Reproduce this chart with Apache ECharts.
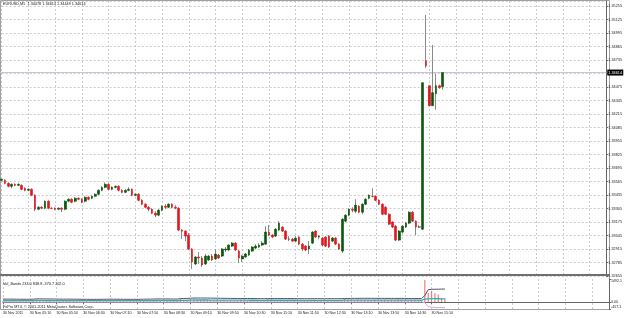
<!DOCTYPE html>
<html>
<head>
<meta charset="utf-8">
<script src="https://cdn.jsdelivr.net/npm/echarts@6/dist/echarts.min.js"></script>
<style>
html, body { margin: 0; padding: 0; background: #fff; }
#chart { width: 625px; height: 318px; }
</style>
</head>
<body>
<div id="chart"></div>
<script>
// EURUSD,M5 - 30 Nov 2011, bars from 04:30 to 15:30
const opens = [
  1.33576, 1.33576, 1.33547, 1.33519, 1.33538, 1.33528, 1.33528, 1.33499, 1.33480, 1.33490,
  1.33432, 1.33298, 1.33317, 1.33308, 1.33375, 1.33308, 1.33308, 1.33298, 1.33308, 1.33298,
  1.33375, 1.33394, 1.33375, 1.33404, 1.33394, 1.33375, 1.33413, 1.33404, 1.33423, 1.33442,
  1.33480, 1.33509, 1.33538, 1.33490, 1.33509, 1.33519, 1.33480, 1.33461, 1.33480, 1.33490,
  1.33432, 1.33442, 1.33384, 1.33346, 1.33317, 1.33298, 1.33260, 1.33241, 1.33289, 1.33327,
  1.33317, 1.33346, 1.33317, 1.33308, 1.33097, 1.33087, 1.33049, 1.32915, 1.32771, 1.32838,
  1.32828, 1.32771, 1.32809, 1.32847, 1.32819, 1.32857, 1.32847, 1.32905, 1.32905, 1.32943,
  1.32972, 1.32895, 1.32819, 1.32838, 1.32857, 1.32895, 1.32924, 1.32934, 1.32953, 1.32962,
  1.33078, 1.33049, 1.33039, 1.33097, 1.33126, 1.33087, 1.33010, 1.33010, 1.32991, 1.33030,
  1.32962, 1.32943, 1.32915, 1.32972, 1.33087, 1.33030, 1.33020, 1.33030, 1.33039, 1.32991,
  1.33020, 1.32962, 1.32895, 1.33183, 1.33241, 1.33298, 1.33279, 1.33327, 1.33269, 1.33346,
  1.33404, 1.33423, 1.33423, 1.33384, 1.33346, 1.33317, 1.33250, 1.33174, 1.33135, 1.33001,
  1.33078, 1.33126, 1.33164, 1.33269, 1.33183, 1.33126, 1.33106, 1.34727, 1.34487, 1.34295,
  1.34411, 1.34487, 1.34478
];
const closes = [
  1.33586, 1.33547, 1.33519, 1.33538, 1.33528, 1.33538, 1.33490, 1.33480, 1.33490, 1.33432,
  1.33298, 1.33317, 1.33308, 1.33375, 1.33308, 1.33306, 1.33298, 1.33308, 1.33298, 1.33375,
  1.33394, 1.33365, 1.33404, 1.33394, 1.33365, 1.33413, 1.33394, 1.33423, 1.33442, 1.33480,
  1.33509, 1.33538, 1.33490, 1.33509, 1.33519, 1.33480, 1.33461, 1.33480, 1.33490, 1.33432,
  1.33442, 1.33384, 1.33346, 1.33317, 1.33298, 1.33260, 1.33241, 1.33289, 1.33327, 1.33317,
  1.33346, 1.33317, 1.33308, 1.33097, 1.33087, 1.33039, 1.32915, 1.32790, 1.32838, 1.32828,
  1.32761, 1.32847, 1.32847, 1.32809, 1.32867, 1.32828, 1.32915, 1.32915, 1.32953, 1.32972,
  1.32905, 1.32828, 1.32847, 1.32867, 1.32905, 1.32934, 1.32943, 1.32953, 1.32972, 1.33078,
  1.33049, 1.33030, 1.33106, 1.33164, 1.33087, 1.33010, 1.33012, 1.32991, 1.33020, 1.32962,
  1.32915, 1.32905, 1.32943, 1.33078, 1.33030, 1.33039, 1.32953, 1.32943, 1.32934, 1.33020,
  1.32962, 1.32915, 1.33202, 1.33241, 1.33298, 1.33289, 1.33337, 1.33269, 1.33346, 1.33394,
  1.33432, 1.33420, 1.33384, 1.33346, 1.33250, 1.33250, 1.33154, 1.33126, 1.33001, 1.33087,
  1.33135, 1.33164, 1.33269, 1.33183, 1.33126, 1.33128, 1.34516, 1.34679, 1.34295, 1.34420,
  1.34487, 1.34468, 1.34614
];
const lows = [
  1.33567, 1.33538, 1.33509, 1.33499, 1.33519, 1.33519, 1.33480, 1.33471, 1.33471, 1.33423,
  1.33279, 1.33289, 1.33298, 1.33298, 1.33298, 1.33298, 1.33289, 1.33289, 1.33269, 1.33289,
  1.33365, 1.33356, 1.33365, 1.33384, 1.33356, 1.33365, 1.33384, 1.33394, 1.33413, 1.33432,
  1.33471, 1.33499, 1.33480, 1.33480, 1.33499, 1.33471, 1.33452, 1.33452, 1.33471, 1.33423,
  1.33423, 1.33375, 1.33337, 1.33308, 1.33279, 1.33250, 1.33222, 1.33231, 1.33279, 1.33298,
  1.33308, 1.33308, 1.33298, 1.33087, 1.33010, 1.32991, 1.32905, 1.32723, 1.32761, 1.32771,
  1.32742, 1.32761, 1.32799, 1.32799, 1.32809, 1.32819, 1.32838, 1.32886, 1.32895, 1.32934,
  1.32895, 1.32780, 1.32790, 1.32828, 1.32847, 1.32886, 1.32915, 1.32924, 1.32943, 1.32953,
  1.33039, 1.33020, 1.33030, 1.33087, 1.33078, 1.33001, 1.32991, 1.32982, 1.32982, 1.32953,
  1.32895, 1.32895, 1.32867, 1.32962, 1.33020, 1.33010, 1.32943, 1.32934, 1.32924, 1.32982,
  1.32953, 1.32905, 1.32876, 1.33174, 1.33231, 1.33269, 1.33260, 1.33260, 1.33250, 1.33337,
  1.33394, 1.33413, 1.33375, 1.33337, 1.33241, 1.33241, 1.33145, 1.33116, 1.32991, 1.32991,
  1.33068, 1.33116, 1.33154, 1.33174, 1.33049, 1.33116, 1.33097, 1.34660, 1.34295, 1.34295,
  1.34257, 1.34458, 1.34449
];
const highs = [
  1.33595, 1.33586, 1.33557, 1.33547, 1.33547, 1.33547, 1.33538, 1.33509, 1.33499, 1.33499,
  1.33442, 1.33327, 1.33327, 1.33384, 1.33384, 1.33317, 1.33317, 1.33317, 1.33317, 1.33384,
  1.33404, 1.33404, 1.33413, 1.33413, 1.33404, 1.33423, 1.33423, 1.33432, 1.33452, 1.33490,
  1.33519, 1.33557, 1.33547, 1.33519, 1.33528, 1.33528, 1.33490, 1.33490, 1.33509, 1.33499,
  1.33452, 1.33452, 1.33394, 1.33356, 1.33327, 1.33308, 1.33279, 1.33298, 1.33337, 1.33346,
  1.33356, 1.33356, 1.33337, 1.33317, 1.33106, 1.33097, 1.33068, 1.32924, 1.32847, 1.32886,
  1.32847, 1.32867, 1.32857, 1.32867, 1.32915, 1.32867, 1.32924, 1.32934, 1.32962, 1.32982,
  1.32982, 1.32905, 1.32857, 1.32876, 1.32915, 1.32943, 1.32962, 1.32972, 1.32991, 1.33135,
  1.33145, 1.33059, 1.33116, 1.33183, 1.33135, 1.33097, 1.33039, 1.33020, 1.33039, 1.33039,
  1.32972, 1.32953, 1.32991, 1.33087, 1.33097, 1.33049, 1.33030, 1.33039, 1.33049, 1.33030,
  1.33030, 1.32972, 1.33212, 1.33250, 1.33308, 1.33317, 1.33394, 1.33337, 1.33356, 1.33404,
  1.33442, 1.33499, 1.33432, 1.33394, 1.33356, 1.33327, 1.33260, 1.33183, 1.33145, 1.33097,
  1.33145, 1.33174, 1.33279, 1.33279, 1.33193, 1.33145, 1.34516, 1.35168, 1.34487, 1.34880,
  1.34602, 1.34497, 1.34614
];

// Vol_Bands indicator
const volumes = [
  62, 48, 55, 40, 36, 44, 58, 50, 47, 70,
  165, 88, 52, 76, 81, 45, 38, 42, 55, 90,
  64, 58, 60, 41, 57, 66, 48, 52, 61, 84,
  92, 97, 88, 70, 54, 72, 60, 58, 55, 86,
  62, 95, 102, 98, 84, 110, 104, 96, 90, 74,
  80, 78, 66, 210, 150, 142, 186, 224, 176, 140,
  158, 150, 118, 104, 132, 96, 128, 90, 114, 102,
  126, 160, 138, 96, 112, 104, 88, 92, 98, 170,
  150, 96, 128, 140, 132, 146, 98, 84, 90, 122,
  118, 112, 134, 168, 130, 92, 126, 134, 128, 104,
  120, 128, 236, 168, 150, 122, 176, 140, 148, 134,
  126, 160, 118, 124, 156, 130, 148, 124, 170, 156,
  132, 120, 150, 138, 142, 110, 1420, 600, 730, 560,
  480, 260, 234
];
const bandUpper = [
  190, 188, 185, 182, 180, 178, 176, 175, 174, 180,
  205, 204, 200, 198, 196, 192, 188, 185, 183, 186,
  184, 182, 180, 176, 174, 172, 170, 168, 168, 172,
  176, 180, 182, 180, 178, 176, 174, 172, 170, 174,
  172, 176, 180, 184, 186, 192, 196, 198, 198, 196,
  194, 192, 188, 218, 226, 232, 242, 256, 258, 256,
  256, 254, 250, 246, 244, 240, 238, 234, 230, 228,
  226, 228, 228, 226, 224, 222, 218, 214, 212, 220,
  222, 220, 220, 222, 222, 224, 222, 218, 214, 212,
  212, 210, 210, 214, 214, 212, 212, 214, 214, 212,
  212, 212, 226, 230, 232, 232, 236, 236, 238, 238,
  236, 236, 234, 234, 234, 232, 232, 230, 232, 232,
  230, 228, 228, 226, 226, 222, 420, 800, 822, 828,
  832, 836, 838.8
];
const bandMid = [
  95, 94, 93, 92, 90, 89, 88, 88, 87, 90,
  100, 99, 97, 96, 95, 93, 91, 90, 89, 90,
  89, 88, 87, 85, 84, 83, 82, 82, 82, 84,
  86, 88, 89, 88, 87, 86, 85, 84, 83, 84,
  84, 86, 88, 90, 91, 94, 96, 97, 97, 96,
  95, 94, 92, 104, 108, 112, 118, 126, 128, 128,
  128, 127, 125, 123, 122, 120, 119, 117, 116, 115,
  114, 115, 115, 114, 113, 112, 110, 108, 107, 111,
  112, 111, 111, 112, 112, 113, 112, 110, 108, 107,
  107, 106, 106, 108, 108, 107, 107, 108, 108, 107,
  107, 107, 114, 116, 117, 117, 119, 119, 120, 120,
  119, 119, 118, 118, 118, 117, 117, 116, 117, 117,
  116, 115, 115, 114, 114, 112, 190, 205, 212, 214,
  210, 205, 202
];
const bandLower = [
  0, 0, 1, 2, 0, 0, 0, 1, 0, 0,
  -5, -6, -6, -6, -6, -6, -6, -5, -5, -6,
  -6, -6, -6, -6, -6, -6, -6, -4, -4, -4,
  -4, -4, -4, -4, -4, -4, -4, -4, -4, -6,
  -4, -4, -4, -4, -4, -4, -4, -4, -4, -4,
  -4, -4, -4, -10, -10, -8, -6, -4, -2, 0,
  0, 0, 0, 0, 0, 0, 0, 0, 2, 2,
  2, 2, 2, 2, 2, 2, 2, 2, 2, 2,
  2, 2, 2, 2, 2, 2, 2, 2, 2, 2,
  2, 2, 2, 2, 2, 2, 2, 2, 2, 2,
  2, 2, 2, 2, 2, 2, 2, 2, 2, 2,
  2, 2, 2, 2, 2, 2, 2, 2, 2, 2,
  2, 2, 2, 2, 2, 2, -40, -290, -340, -355,
  -362, -368, -370.7
];

const timeLabels = [
  '30 Nov 2011', '30 Nov 05:10', '30 Nov 05:50', '30 Nov 06:30', '30 Nov 07:10',
  '30 Nov 07:50', '30 Nov 08:30', '30 Nov 09:10', '30 Nov 09:50', '30 Nov 10:30',
  '30 Nov 11:10', '30 Nov 11:50', '30 Nov 12:30', '30 Nov 13:10', '30 Nov 13:50',
  '30 Nov 14:30', '30 Nov 15:10'
];
const priceMin = 1.32655;
const priceStep = 0.0013;
const priceMax = 1.35303;
const volLimits = [-457.1, 0, 1492.1];

const N = opens.length;
const shiftBars = 49; // empty space on the right (chart shift)
const cats = [];
for (let i = 0; i < N + shiftBars; i++) {
  if (i < N) {
    const m = 4 * 60 + 30 + 5 * i;
    const hh = String(Math.floor(m / 60)).padStart(2, '0');
    const mm = String(m % 60).padStart(2, '0');
    cats.push('30 Nov ' + hh + ':' + mm);
  } else {
    cats.push('');
  }
}

const wickData = opens.map((o, i) => [o, closes[i], lows[i], highs[i]]);
const bodyData = opens.map((o, i) => [o, closes[i], Math.min(o, closes[i]), Math.max(o, closes[i])]);

const last = N - 1;
const fx = v => v.toFixed(5);
const headerText = 'EURUSD,M5  ' + fx(opens[last]) + ' ' + fx(highs[last]) + ' ' + fx(lows[last]) + ' ' + fx(closes[last]);
const volText = 'Vol_Bands ' + volumes[last].toFixed(1) + ' ' + bandUpper[last].toFixed(1) + ' ' +
  bandLower[last].toFixed(1) + ' ' + bandMid[last].toFixed(1);

const FONT = 'Liberation Sans, Arial, sans-serif';
const gridLine = { color: '#cccccc', type: [2, 2], width: 1 };
const every8 = (i) => i % 8 === 0;

const frame = [
  { id: 'frame', type: 'rect', shape: { x: 0.5, y: 0.5, width: 609, height: 309 }, style: { fill: 'none', stroke: '#a0a0a0', lineWidth: 1 }, silent: true },
  { id: 'sep', type: 'rect', shape: { x: 0, y: 274, width: 610, height: 2 }, style: { fill: '#6f6f6f' }, silent: true, z: 10 },
  { id: 'head', type: 'text', left: 3, top: 2, style: { text: headerText, fontSize: 3.8, fill: '#222', fontFamily: FONT }, z: 10 },
  { id: 'vol', type: 'text', left: 3, top: 282, style: { text: volText, fontSize: 3.8, fill: '#222', fontFamily: FONT }, z: 10 },
  { id: 'copy', type: 'text', left: 3, top: 304.8, style: { text: 'FxPro MT4, \u00a9 2001-2011 MetaQuotes Software Corp.', fontSize: 3.8, fill: '#222', fontFamily: FONT }, z: 10 }
];

const chart = echarts.init(document.getElementById('chart'));
chart.setOption({
  animation: false,
  backgroundColor: '#ffffff',
  textStyle: { fontFamily: FONT },
  grid: [
    { left: 1.7, right: 16, top: 1, height: 275 },
    { left: 1.7, right: 16, top: 279, height: 30 }
  ],
  xAxis: [
    {
      type: 'category', gridIndex: 0, data: cats, boundaryGap: false,
      axisLine: { show: false }, axisTick: { show: false }, axisLabel: { show: false },
      splitLine: { show: true, interval: every8, lineStyle: gridLine }
    },
    {
      type: 'category', gridIndex: 1, data: cats, boundaryGap: false,
      axisLine: { show: true, lineStyle: { color: '#666', width: 1 } },
      axisTick: { show: true, interval: (i) => i % 8 === 0 && i < N, length: 2, lineStyle: { color: '#666' } },
      axisLabel: {
        interval: (i) => i % 8 === 0 && i < N,
        fontSize: 3.6, color: '#222', align: 'left', margin: 2,
        formatter: (v, i) => (i % 8 === 0 && i < N ? timeLabels[i / 8] : '')
      },
      splitLine: { show: true, interval: every8, lineStyle: gridLine }
    }
  ],
  yAxis: [
    {
      type: 'value', gridIndex: 0, position: 'right', scale: true,
      min: priceMin, max: priceMax, interval: priceStep,
      axisLine: { show: true, lineStyle: { color: '#666' } },
      axisTick: { show: true, length: 2, lineStyle: { color: '#666' } },
      axisLabel: { fontSize: 3.8, color: '#222', margin: 2, showMaxLabel: false, formatter: fx },
      splitLine: { show: true, lineStyle: gridLine }
    },
    {
      type: 'value', gridIndex: 1, position: 'right',
      min: volLimits[0], max: volLimits[2],
      axisLine: { show: true, lineStyle: { color: '#666' } },
      axisTick: { show: true, length: 2, customValues: volLimits, lineStyle: { color: '#666' } },
      axisLabel: {
        customValues: volLimits, fontSize: 3.6, color: '#222', margin: 2,
        verticalAlignMaxLabel: 'top', verticalAlignMinLabel: 'bottom',
        formatter: v => (v === 0 ? '0.00' : v.toFixed(1))
      },
      splitLine: { show: false }
    }
  ],
  graphic: frame,
  series: [
    {
      name: 'wicks', type: 'candlestick', xAxisIndex: 0, yAxisIndex: 0,
      data: wickData, barWidth: 1, clip: false, silent: true,
      itemStyle: { color: '#8a8a8a', color0: '#8a8a8a', borderColor: '#8a8a8a', borderColor0: '#8a8a8a', borderWidth: 1 }
    },
    {
      name: 'EURUSD,M5', type: 'candlestick', xAxisIndex: 0, yAxisIndex: 0,
      data: bodyData, barWidth: 2.2, clip: false, silent: true,
      itemStyle: { color: '#0a560a', color0: '#e3161c', borderColor: '#0a560a', borderColor0: '#e3161c', borderWidth: 0.6 }
    },
    {
      name: 'Volume', type: 'bar', xAxisIndex: 1, yAxisIndex: 1,
      data: volumes, barWidth: 1.2, itemStyle: { color: '#f07a7a' }, silent: true
    },
    {
      name: 'Upper', type: 'line', xAxisIndex: 1, yAxisIndex: 1, data: bandUpper,
      symbol: 'none', lineStyle: { color: '#555566', width: 1 }, silent: true
    },
    {
      name: 'Mid', type: 'line', xAxisIndex: 1, yAxisIndex: 1, data: bandMid,
      symbol: 'none', lineStyle: { color: '#2eb0b0', width: 1.3 }, silent: true
    },
    {
      name: 'Lower', type: 'line', xAxisIndex: 1, yAxisIndex: 1, data: bandLower,
      symbol: 'none', lineStyle: { color: '#d9a6dc', width: 1 }, silent: true
    }
  ]
});

// bid line and price tag, placed through the price axis scale
const bidY = chart.convertToPixel({ yAxisIndex: 0 }, closes[last]);
const gridRect = chart.getModel().getComponent('grid', 0).coordinateSystem.getRect();
chart.setOption({
  graphic: frame.concat([
    {
      id: 'bid', type: 'line', silent: true, z: 1,
      shape: { x1: gridRect.x - 1.7, y1: bidY, x2: gridRect.x + gridRect.width, y2: bidY },
      style: { stroke: '#c8c2d6', lineWidth: 1 }
    },
    {
      id: 'bidTag', type: 'rect', silent: true, z: 20,
      shape: { x: gridRect.x + gridRect.width + 1, y: bidY - 3, width: 16, height: 6 },
      style: { fill: '#000' }
    },
    {
      id: 'bidText', type: 'text', silent: true, z: 21,
      x: gridRect.x + gridRect.width + 2, y: bidY,
      style: { text: fx(closes[last]), fontSize: 3.8, fill: '#fff', fontFamily: FONT, verticalAlign: 'middle' }
    }
  ])
});
</script>
</body>
</html>
